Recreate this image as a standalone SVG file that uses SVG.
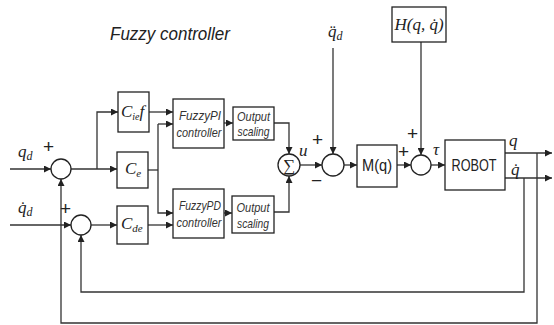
<svg xmlns="http://www.w3.org/2000/svg" width="554" height="325" viewBox="0 0 554 325">
<defs>
<marker id="ah" viewBox="0 0 10 10" refX="10" refY="5" markerWidth="7" markerHeight="7" markerUnits="userSpaceOnUse" orient="auto">
<path d="M0,0 L10,5 L0,10 z" fill="#222"/>
</marker>
</defs>
<style>
.box{fill:#fff;stroke:#222;stroke-width:1.3}
.ln{fill:none;stroke:#333;stroke-width:1.3}
.ar{fill:none;stroke:#333;stroke-width:1.3;marker-end:url(#ah)}
.m{font-family:"Liberation Serif",serif;font-style:italic;font-size:17px;fill:#222}
.s{font-family:"Liberation Sans",sans-serif;font-style:italic;font-size:13px;fill:#333;text-anchor:middle}
.p{font-family:"Liberation Sans",sans-serif;font-size:17px;fill:#222}
.pl{font-family:"Liberation Sans",sans-serif;font-size:19px;fill:#222}
.t{font-family:"Liberation Sans",sans-serif;font-style:italic;font-size:18px;fill:#222}
</style>
<rect width="554" height="325" fill="#fff"/>
<text class="t" x="110" y="40" textLength="120" lengthAdjust="spacingAndGlyphs">Fuzzy controller</text>

<g id="connectors">
<path class="ar" d="M10,169 L51,169"/>
<path class="ar" d="M71,169 L117,169"/>
<path class="ar" d="M97,169 L97,112 L118,112"/>
<path class="ar" d="M149,112 L173,112"/>
<path class="ln" d="M148,170 L158,170"/>
<path class="ar" d="M158,124 L173,124"/>
<path class="ar" d="M158,124 L158,213 L173,213"/>
<path class="ar" d="M224,123 L233,123"/>
<path class="ar" d="M274,123 L289,123 L289,154"/>
<path class="ar" d="M224,213 L232,213"/>
<path class="ar" d="M274,212 L289,212 L289,176"/>
<path class="ar" d="M300,165 L322,165"/>
<path class="ar" d="M333,48 L333,154"/>
<path class="ar" d="M344,165 L357,165"/>
<path class="ar" d="M397,165 L411,165"/>
<path class="ar" d="M421,42 L421,155"/>
<path class="ar" d="M431,165 L445,165"/>
<path class="ar" d="M505,153 L552,153"/>
<path class="ar" d="M505,178 L552,178"/>
<path class="ar" d="M524,178 L524,292 L81,292 L81,235"/>
<path class="ar" d="M537,153 L537,323 L61,323 L61,179"/>
<path class="ar" d="M10,225 L71,225"/>
<path class="ar" d="M91,225 L117,225"/>
<path class="ar" d="M148,225 L173,225"/>
</g>

<g id="labels">
<text class="m" x="18" y="157">q<tspan font-size="12" dy="3">d</tspan></text>
<text class="pl" x="43" y="153">+</text>
<text class="m" x="18" y="213">q̇<tspan font-size="12" dy="3">d</tspan></text>
<text class="pl" x="60" y="215">+</text>
<text class="m" x="299" y="156">u</text>
<text class="pl" x="312" y="146">+</text>
<text class="pl" x="311" y="187">−</text>
<text class="m" x="328" y="37">q̈<tspan font-size="12" dy="3">d</tspan></text>
<text class="pl" x="398" y="158">+</text>
<text class="pl" x="407" y="140">+</text>
<text class="m" x="433" y="155">τ</text>
<text class="m" x="509" y="146" font-size="15">q</text>
<text class="m" x="511" y="175" font-size="14">q̇</text>
</g>

<g id="sum1"><circle class="box" cx="61" cy="169" r="10"/></g>
<g id="sum2"><circle class="box" cx="81" cy="225" r="10"/></g>
<g id="Cief"><rect class="box" x="118" y="92" width="31" height="40"/><text class="m" x="121" y="117" font-size="15">C<tspan font-size="10" dy="3">ie</tspan><tspan dy="-3">f</tspan></text></g>
<g id="Ce"><rect class="box" x="117" y="152" width="31" height="36"/><text class="m" x="125" y="174">C<tspan font-size="11" dy="3">e</tspan></text></g>
<g id="Cde"><rect class="box" x="117" y="206" width="31" height="38"/><text class="m" x="121" y="229">C<tspan font-size="11" dy="3">de</tspan></text></g>
<g id="fuzzyPI"><rect class="box" x="173" y="99" width="51" height="49"/><text class="s" x="200" y="120" textLength="42" lengthAdjust="spacingAndGlyphs">FuzzyPI</text><text class="s" x="199" y="137" textLength="45" lengthAdjust="spacingAndGlyphs">controller</text></g>
<g id="fuzzyPD"><rect class="box" x="173" y="189" width="51" height="49"/><text class="s" x="200" y="210" textLength="42" lengthAdjust="spacingAndGlyphs">FuzzyPD</text><text class="s" x="199" y="227" textLength="45" lengthAdjust="spacingAndGlyphs">controller</text></g>
<g id="scale1"><rect class="box" x="233" y="107" width="41" height="33"/><text class="s" x="253.5" y="121" textLength="33" lengthAdjust="spacingAndGlyphs">Output</text><text class="s" x="253.5" y="136" textLength="32" lengthAdjust="spacingAndGlyphs">scaling</text></g>
<g id="scale2"><rect class="box" x="232" y="196" width="42" height="37"/><text class="s" x="253" y="212" textLength="33" lengthAdjust="spacingAndGlyphs">Output</text><text class="s" x="253" y="228" textLength="32" lengthAdjust="spacingAndGlyphs">scaling</text></g>
<g id="sigma"><circle class="box" cx="289" cy="165" r="11"/><text x="289" y="171" font-family="Liberation Serif,serif" font-size="17" text-anchor="middle" fill="#222">∑</text></g>
<g id="sum3"><circle class="box" cx="333" cy="165" r="11"/></g>
<g id="Mq"><rect class="box" x="357" y="145" width="40" height="42"/><text class="p" x="377" y="171" text-anchor="middle" textLength="30" lengthAdjust="spacingAndGlyphs">M(q)</text></g>
<g id="sum4"><circle class="box" cx="421" cy="165" r="10"/></g>
<g id="H"><rect class="box" x="392" y="7" width="54" height="35"/><text class="m" x="419" y="30" text-anchor="middle">H(q, q̇)</text></g>
<g id="robot"><rect class="box" x="445" y="140" width="60" height="50"/><text class="p" x="474" y="171" text-anchor="middle" font-size="16" textLength="45" lengthAdjust="spacingAndGlyphs">ROBOT</text></g>
</svg>
